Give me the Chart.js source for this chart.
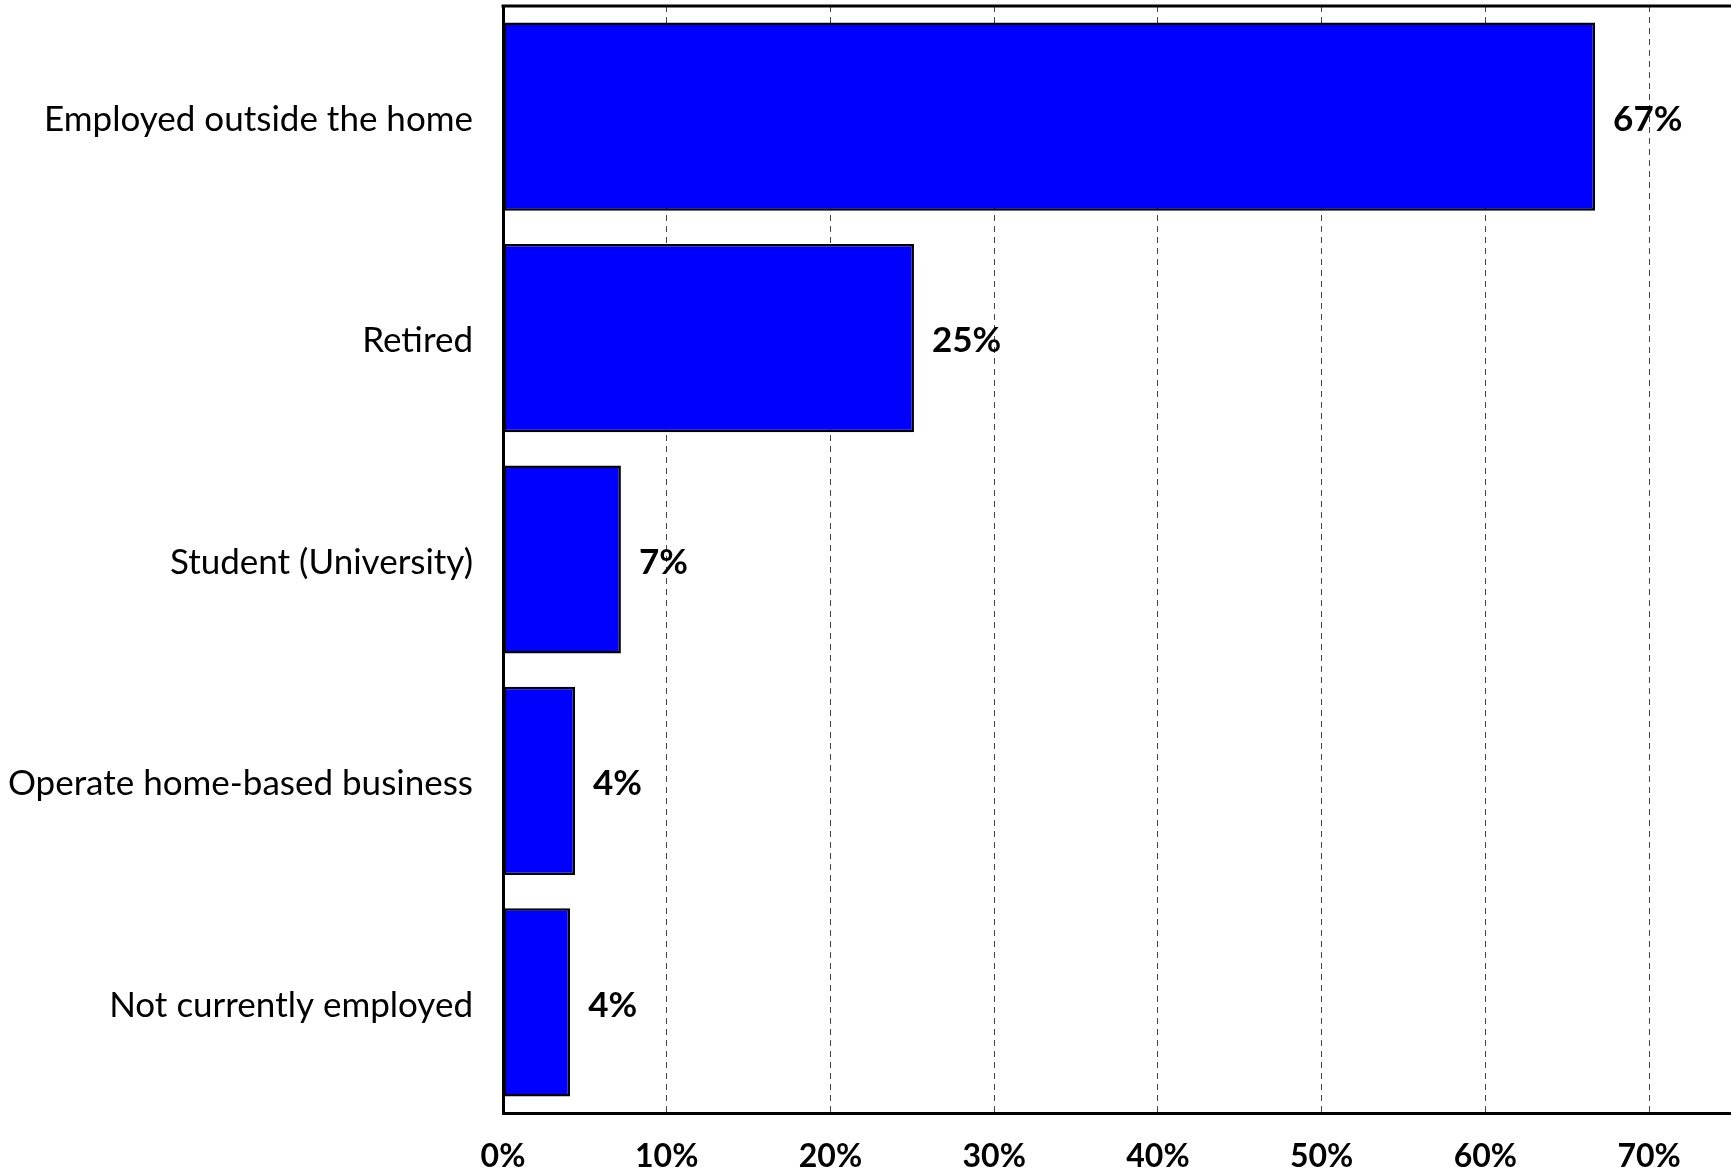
<!DOCTYPE html>
<html lang="en">
<head>
<meta charset="UTF-8">
<title>Employment status</title>
<script src="https://cdn.jsdelivr.net/npm/chart.js"></script>
<style>
    body {
        margin: 0;
        padding: 0;
        background: #ffffff;
    }
    #wrap {
        width: 1731px;
        height: 1172px;
    }
</style>
</head>
<body>
<div id="wrap">
    <canvas id="chart" width="1731" height="1172"></canvas>
</div>
<script>
// categories and shares (percent of respondents)
var categories = [
    'Employed outside the home',
    'Retired',
    'Student (University)',
    'Operate home-based business',
    'Not currently employed'
];
var shares = [66.7, 25.1, 7.2, 4.4, 4.1];
var xTickValues = [0, 10, 20, 30, 40, 50, 60, 70];

var labelFont = '"Lato", "Open Sans", sans-serif';

// percentage text to the right of every bar
var valueLabels = {
    id: 'valueLabels',
    afterDatasetsDraw: function (chart) {
        var ctx = chart.ctx;
        var meta = chart.getDatasetMeta(0);
        ctx.save();
        ctx.font = 'bold 35px ' + labelFont;
        ctx.fillStyle = '#000';
        ctx.textAlign = 'left';
        ctx.textBaseline = 'middle';
        meta.data.forEach(function (bar, i) {
            ctx.fillText(Math.round(shares[i]) + '%', bar.x + 18, bar.y + 3);
        });
        ctx.restore();
    }
};

// top frame line
var topFrame = {
    id: 'topFrame',
    afterDraw: function (chart) {
        var a = chart.chartArea;
        var ctx = chart.ctx;
        ctx.save();
        ctx.strokeStyle = '#000';
        ctx.lineWidth = 3;
        ctx.beginPath();
        ctx.moveTo(a.left - 1.5, a.top);
        ctx.lineTo(a.right, a.top);
        ctx.stroke();
        ctx.restore();
    }
};

new Chart(document.getElementById('chart'), {
    type: 'bar',
    data: {
        labels: categories,
        datasets: [{
            data: shares,
            backgroundColor: '#0000ff',
            borderColor: '#000000',
            borderWidth: 2.5,
            borderSkipped: false,
            barPercentage: 0.85,
            categoryPercentage: 1
        }]
    },
    options: {
        indexAxis: 'y',
        responsive: false,
        animation: false,
        layout: { padding: { top: 6, right: 0, left: 0, bottom: 0 } },
        plugins: {
            legend: { display: false },
            tooltip: { enabled: false }
        },
        scales: {
            x: {
                min: 0,
                max: 75,
                afterBuildTicks: function (scale) {
                    scale.ticks = xTickValues.map(function (v) { return { value: v }; });
                },
                afterFit: function (scale) {
                    scale.height = 59;
                    scale.paddingLeft = 0;
                    scale.paddingRight = 0;
                },
                ticks: {
                    padding: 24,
                    color: '#000',
                    font: { family: labelFont, size: 32, weight: 'bold' },
                    callback: function (v) { return v + '%'; }
                },
                grid: {
                    drawTicks: false,
                    lineWidth: 1,
                    color: function (c) { return c.tick && c.tick.value === 0 ? 'rgba(0,0,0,0)' : '#444'; }
                },
                border: { display: true, color: '#000', width: 3, dash: [6, 5] }
            },
            y: {
                afterFit: function (scale) {
                    scale.width = 503;
                    scale.paddingTop = 0;
                    scale.paddingBottom = 0;
                },
                ticks: {
                    padding: 30,
                    labelOffset: 3,
                    color: '#000',
                    font: { family: labelFont, size: 35 }
                },
                grid: { display: false, drawTicks: false },
                border: { display: true, color: '#000', width: 3 }
            }
        }
    },
    plugins: [valueLabels, topFrame]
});
</script>
</body>
</html>
